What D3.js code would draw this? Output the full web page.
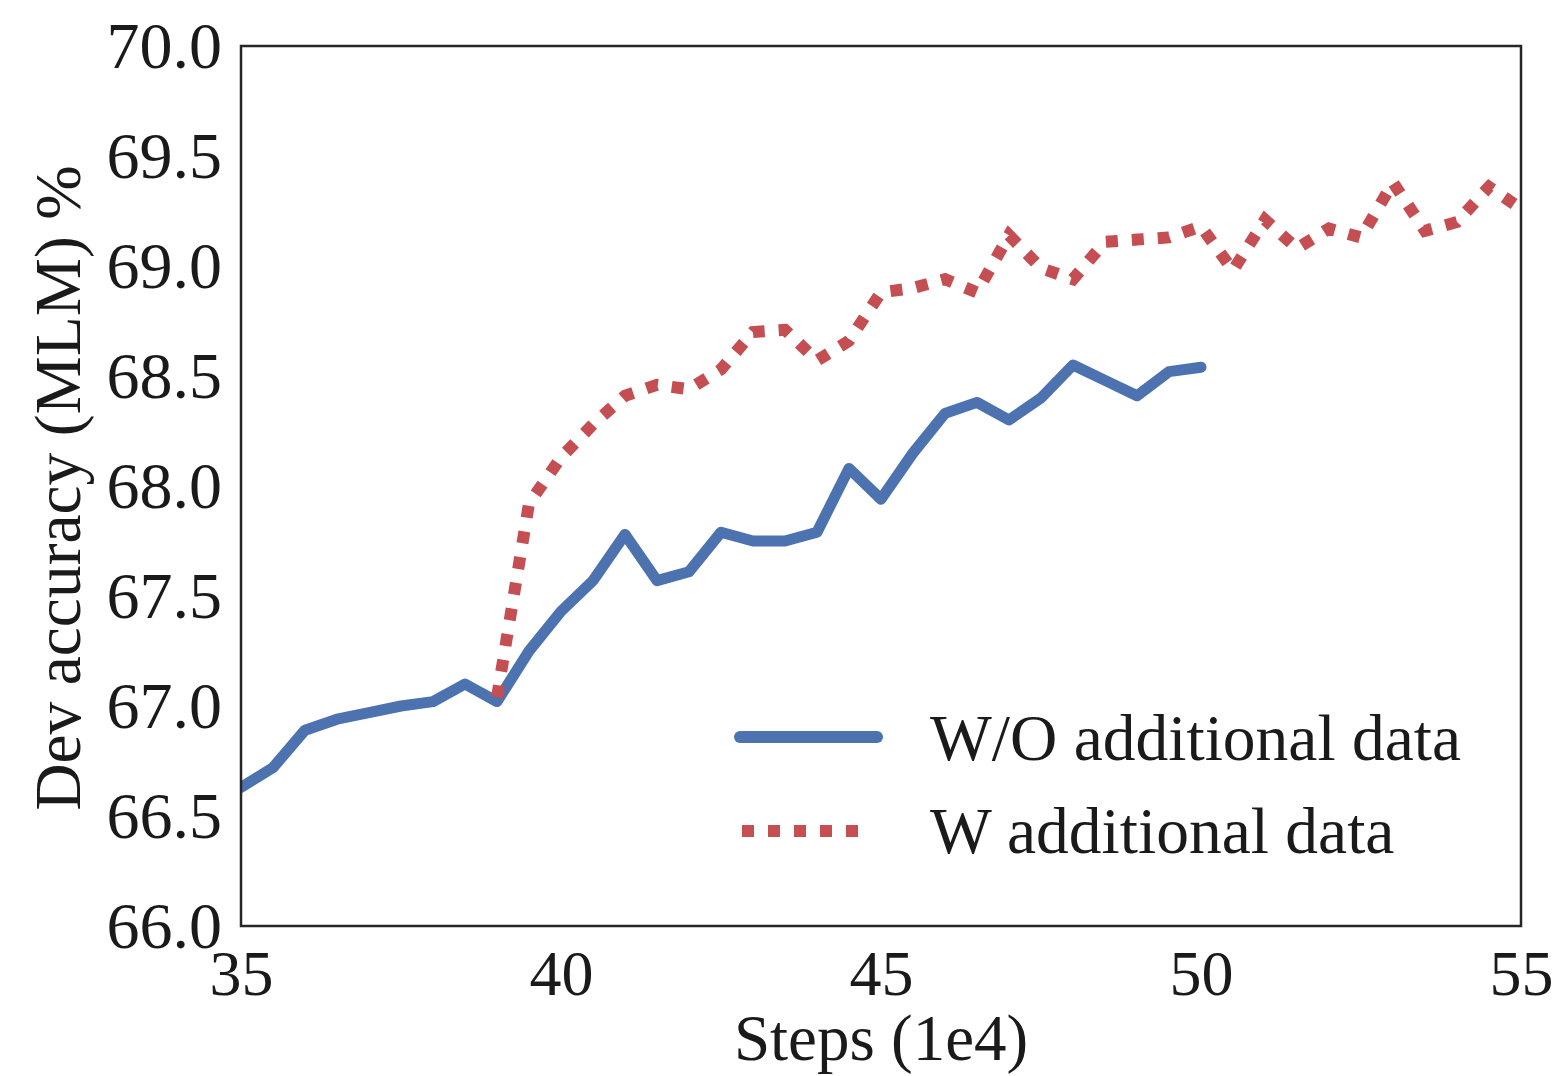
<!DOCTYPE html>
<html>
<head>
<meta charset="utf-8">
<script src="https://cdn.jsdelivr.net/npm/d3@7"></script>
<style>
  body { margin: 0; background: #fff; }
  text { font-family: "Liberation Serif", "Times New Roman", serif; fill: #1a1a1a; }
</style>
</head>
<body>
<script>
// DATA

// Steps (1e4) and dev accuracy, run without additional data
const blueSteps = [35, 35.5, 36, 36.5, 37, 37.5, 38, 38.5, 39, 39.5, 40, 40.5, 41, 41.5, 42, 42.5,
                   43, 43.5, 44, 44.5, 45, 45.5, 46, 46.5, 47, 47.5, 48, 48.5, 49, 49.5, 50];
const blueAcc   = [66.63, 66.72, 66.89, 66.94, 66.97, 67.00, 67.02, 67.10, 67.02, 67.25, 67.43, 67.57, 67.78, 67.57, 67.61, 67.79,
                   67.75, 67.75, 67.79, 68.08, 67.94, 68.15, 68.33, 68.38, 68.30, 68.40, 68.55, 68.48, 68.41, 68.52, 68.54];

// Steps (1e4) and dev accuracy, run with additional data (starts at 39)
const redSteps = [39, 39.5, 40, 40.5, 41, 41.5, 42, 42.5, 43, 43.5, 44, 44.5, 45, 45.5, 46, 46.5,
                  47, 47.5, 48, 48.5, 49, 49.5, 50, 50.5, 51, 51.5, 52, 52.5, 53, 53.5, 54, 54.5, 55];
const redAcc   = [67.04, 67.92, 68.13, 68.28, 68.41, 68.46, 68.44, 68.53, 68.70, 68.71, 68.57, 68.66, 68.88, 68.90, 68.94, 68.88,
                  69.14, 68.99, 68.94, 69.11, 69.12, 69.13, 69.18, 68.98, 69.21, 69.08, 69.17, 69.13, 69.38, 69.16, 69.20, 69.36, 69.26];

const xTicks = [35, 40, 45, 50, 55];
const yTicks = [66.0, 66.5, 67.0, 67.5, 68.0, 68.5, 69.0, 69.5, 70.0];
const seriesNames = ["W/O additional data", "W additional data"];

// Needed Variables
const width = 1558;
const height = 1076;
const margin = {top: 46, right: 37, bottom: 150, left: 241};
const blue = '#4c72b0';
const red = '#c44e52';

const svg = d3.select('body')
  .append('svg')
  .attr('width', width)
  .attr('height', height);

// Scales
const xScale = d3.scaleLinear()
  .domain([35, 55])
  .range([margin.left, width - margin.right]);

const yScale = d3.scaleLinear()
  .domain([66, 70])
  .range([height - margin.bottom, margin.top]);

// Clip lines to the axes box, like matplotlib does
svg.append('clipPath')
  .attr('id', 'plotclip')
  .append('rect')
  .attr('x', margin.left)
  .attr('y', margin.top)
  .attr('width', xScale.range()[1] - margin.left)
  .attr('height', yScale.range()[0] - margin.top);

// Axes (no tick marks, only labels)
const yAxis = d3.axisLeft(yScale)
  .tickValues(yTicks)
  .tickSize(0)
  .tickPadding(19)
  .tickFormat(d3.format('.1f'));

svg.append('g')
  .attr('transform', 'translate(' + margin.left + ',0)')
  .call(yAxis)
  .call(g => g.select('.domain').remove())
  .selectAll('text')
  .attr('font-size', 66)
  .attr('dy', '0.33em')
  .attr('font-family', null);

const xAxis = d3.axisBottom(xScale)
  .tickValues(xTicks)
  .tickSize(0)
  .tickPadding(0)
  .tickFormat(d3.format('d'));

svg.append('g')
  .attr('transform', 'translate(0,' + (height - margin.bottom) + ')')
  .call(xAxis)
  .call(g => g.select('.domain').remove())
  .selectAll('text')
  .attr('font-size', 64)
  .attr('y', 69)
  .attr('dy', null)
  .attr('font-family', null);

// Axis titles
svg.append('text')
  .attr('x', xScale(45))
  .attr('y', 1060)
  .attr('text-anchor', 'middle')
  .attr('font-size', 65)
  .text('Steps (1e4)');

svg.append('text')
  .attr('transform', 'translate(80,' + (yScale(68) + 2) + ') rotate(-90)')
  .attr('text-anchor', 'middle')
  .attr('font-size', 65.5)
  .text('Dev accuracy (MLM) %');

// Lines
const line = d3.line()
  .x(d => xScale(d[0]))
  .y(d => yScale(d[1]));

const plot = svg.append('g').attr('clip-path', 'url(#plotclip)');

plot.append('path')
  .datum(d3.zip(blueSteps, blueAcc))
  .attr('d', line)
  .attr('fill', 'none')
  .attr('stroke', blue)
  .attr('stroke-width', 11)
  .attr('stroke-linejoin', 'round')
  .attr('stroke-linecap', 'round');

plot.append('path')
  .datum(d3.zip(redSteps, redAcc))
  .attr('d', line)
  .attr('fill', 'none')
  .attr('stroke', red)
  .attr('stroke-width', 12)
  .attr('stroke-dasharray', '12 14');

// Frame around the axes
svg.append('rect')
  .attr('x', margin.left)
  .attr('y', margin.top)
  .attr('width', xScale.range()[1] - margin.left)
  .attr('height', yScale.range()[0] - margin.top)
  .attr('fill', 'none')
  .attr('stroke', '#262626')
  .attr('stroke-width', 2.5);

// Legend
const legend = svg.append('g').attr('transform', 'translate(740,737)');

legend.append('line')
  .attr('x1', 0).attr('x2', 137)
  .attr('stroke', blue)
  .attr('stroke-width', 12)
  .attr('stroke-linecap', 'round');

legend.append('line')
  .attr('x1', 2).attr('x2', 124)
  .attr('y1', 94).attr('y2', 94)
  .attr('stroke', red)
  .attr('stroke-width', 12)
  .attr('stroke-dasharray', '12 14');

legend.selectAll('text.entry')
  .data(seriesNames)
  .join('text')
  .attr('class', 'entry')
  .attr('x', 190)
  .attr('y', (d, i) => 23 + i * 93)
  .attr('font-size', 65.5)
  .text(d => d);
</script>
</body>
</html>
